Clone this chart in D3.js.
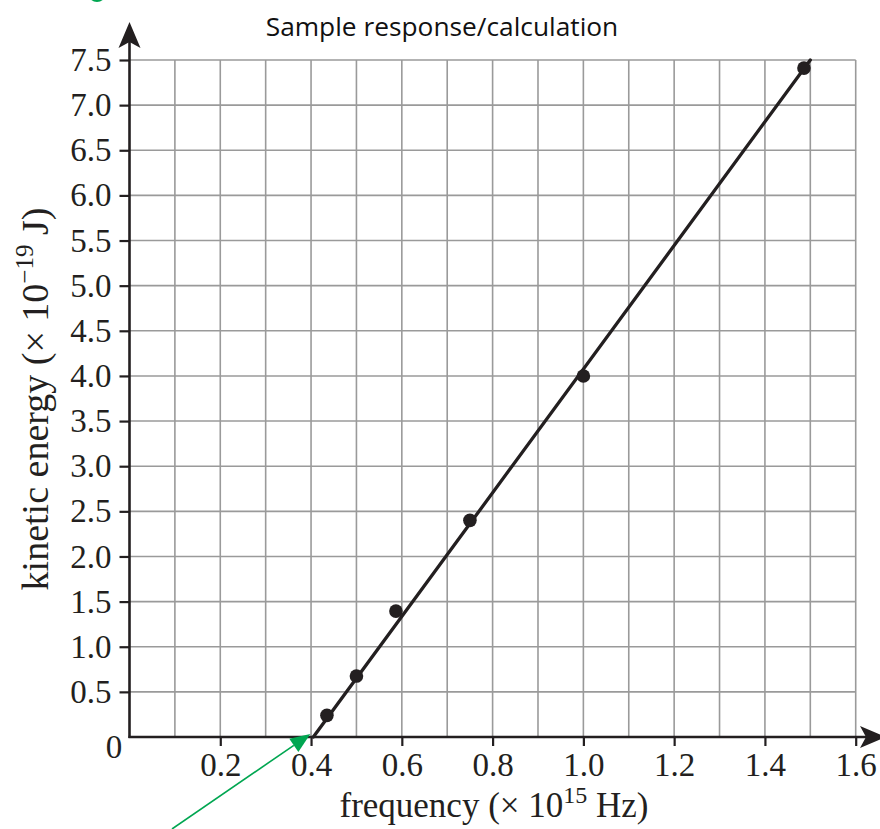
<!DOCTYPE html>
<html>
<head>
<meta charset="utf-8">
<script src="https://cdn.jsdelivr.net/npm/d3@7/dist/d3.min.js"></script>
<style>
  html, body { margin: 0; padding: 0; background: #fff; }
  svg { display: block; }
</style>
</head>
<body>
<svg id="chart" width="880" height="829"></svg>
<script>
// Photoelectric effect: kinetic energy of emitted electrons against frequency
const frequency = [0.435, 0.50, 0.587, 0.75, 1.0, 1.486];   // × 10^15 Hz
const kineticEnergy = [0.24, 0.675, 1.395, 2.40, 4.0, 7.41]; // × 10^-19 J

// best-fit line end points (x-intercept gives the threshold frequency)
const fitFrequency = [0.405, 1.5];
const fitEnergy = [0, 7.5];

const xTicks = [0.2, 0.4, 0.6, 0.8, 1.0, 1.2, 1.4, 1.6];
const yTicks = [0.5, 1.0, 1.5, 2.0, 2.5, 3.0, 3.5, 4.0, 4.5, 5.0, 5.5, 6.0, 6.5, 7.0, 7.5];
const xGrid = d3.range(1, 17).map(i => i / 10);

const svg = d3.select("#chart");
const serif = "'Liberation Serif', 'Times New Roman', serif";
const ink = "#231f20";

const x = d3.scaleLinear().domain([0, 1.6]).range([129.5, 855.7]);
const y = d3.scaleLinear().domain([0, 7.5]).range([737, 60]);

// grid
const grid = svg.append("g").attr("stroke", "#9a9a9a").attr("stroke-width", 1.6);
grid.selectAll("line.v").data(xGrid).join("line")
  .attr("class", "v")
  .attr("x1", d => x(d)).attr("x2", d => x(d))
  .attr("y1", y(0)).attr("y2", y(7.5));
grid.selectAll("line.h").data(yTicks).join("line")
  .attr("class", "h")
  .attr("x1", x(0)).attr("x2", x(1.6))
  .attr("y1", d => y(d)).attr("y2", d => y(d));

// axes
const yAxis = svg.append("g")
  .attr("transform", `translate(${x(0)},0)`)
  .call(d3.axisLeft(y).tickValues(yTicks).tickSize(10).tickPadding(8)
    .tickFormat(d3.format(".1f")));
const xAxis = svg.append("g")
  .attr("transform", `translate(0,${y(0)})`)
  .call(d3.axisBottom(x).tickValues(xTicks).tickSize(9).tickPadding(7)
    .tickFormat(d3.format(".1f")));

[yAxis, xAxis].forEach(a => {
  a.select(".domain").remove();
  a.selectAll(".tick line").attr("stroke", ink).attr("stroke-width", 2.2);
  a.selectAll(".tick text").attr("fill", ink)
    .style("font-family", serif).style("font-size", "33px");
});

// axis lines with arrowheads
svg.append("line").attr("x1", x(0)).attr("x2", x(0))
  .attr("y1", y(0) + 1).attr("y2", 40)
  .attr("stroke", ink).attr("stroke-width", 2.6);
svg.append("line").attr("x1", x(0) - 1).attr("x2", 866)
  .attr("y1", y(0)).attr("y2", y(0))
  .attr("stroke", ink).attr("stroke-width", 2.6);

const ax = x(0);
svg.append("path")
  .attr("d", `M${ax},22 L${ax + 11},48 L${ax},42 L${ax - 11},48 Z`)
  .attr("fill", ink);
const ay = y(0);
svg.append("path")
  .attr("d", `M886,${ay} L860,${ay - 11} L866,${ay} L860,${ay + 11} Z`)
  .attr("fill", ink);

// origin label
svg.append("text").attr("x", 114).attr("y", 758)
  .attr("text-anchor", "middle").attr("fill", ink)
  .style("font-family", serif).style("font-size", "33px").text("0");

// best-fit line
svg.append("line")
  .attr("x1", x(fitFrequency[0])).attr("y1", y(fitEnergy[0]))
  .attr("x2", x(fitFrequency[1])).attr("y2", y(fitEnergy[1]))
  .attr("stroke", ink).attr("stroke-width", 3.3).attr("stroke-linecap", "round");

// data points
svg.selectAll("circle.pt").data(frequency).join("circle")
  .attr("class", "pt")
  .attr("cx", d => x(d))
  .attr("cy", (d, i) => y(kineticEnergy[i]))
  .attr("r", 6.8).attr("fill", ink);

// axis titles
const yl = svg.append("text")
  .attr("transform", `translate(48,399) rotate(-90)`)
  .attr("text-anchor", "middle").attr("fill", ink)
  .style("font-family", serif).style("font-size", "38px");
yl.append("tspan").text("kinetic energy (× 10");
yl.append("tspan").attr("dy", -15).style("font-size", "25px").text("−19");
yl.append("tspan").attr("dy", 15).text(" J)");

const xl = svg.append("text")
  .attr("x", 494).attr("y", 817)
  .attr("text-anchor", "middle").attr("fill", ink)
  .style("font-family", serif).style("font-size", "35px");
xl.append("tspan").text("frequency (× 10");
xl.append("tspan").attr("dy", -14).style("font-size", "24px").text("15");
xl.append("tspan").attr("dy", 14).text(" Hz)");

// title
svg.append("text").attr("x", 442).attr("y", 36)
  .attr("text-anchor", "middle").attr("fill", "#111")
  .style("font-family", "'Open Sans', sans-serif").style("font-size", "26.3px")
  .text("Sample response/calculation");

// threshold-frequency pointer
const green = "#00a651";
const tip = [x(fitFrequency[0]) - 3, y(0) - 3];
const tail = [172, 829];
const ang = Math.atan2(tip[1] - tail[1], tip[0] - tail[0]);
const hl = 20, hw = 8;
const bx = tip[0] - hl * Math.cos(ang), by = tip[1] - hl * Math.sin(ang);
svg.append("line")
  .attr("x1", tail[0]).attr("y1", tail[1]).attr("x2", bx).attr("y2", by)
  .attr("stroke", green).attr("stroke-width", 1.6);
svg.append("path")
  .attr("d", `M${tip[0]},${tip[1]} L${bx + hw * Math.sin(ang)},${by - hw * Math.cos(ang)} L${bx - hw * Math.sin(ang)},${by + hw * Math.cos(ang)} Z`)
  .attr("fill", green);

// green marker clipped by the top edge
svg.append("circle").attr("cx", 97).attr("cy", -7).attr("r", 9).attr("fill", green);
</script>
</body>
</html>
